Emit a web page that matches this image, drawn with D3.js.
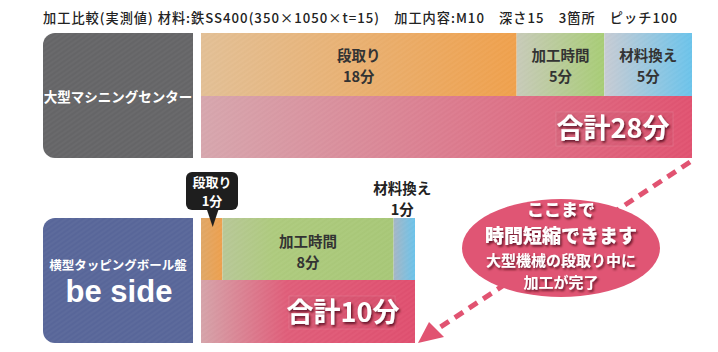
<!DOCTYPE html>
<html>
<head>
<meta charset="utf-8">
<script src="https://cdn.jsdelivr.net/npm/d3@7"></script>
<style>
  body { margin: 0; background: #fff; }
  svg text { font-family: "Noto Sans CJK JP", "Noto Sans", sans-serif; }
  svg text.latin { font-family: "Liberation Sans", Arial, sans-serif; }
</style>
</head>
<body>
<div id="chart"></div>
<script>
// data
var title = "加工比較(実測値) 材料:鉄SS400(350×1050×t=15)　加工内容:M10　深さ15　3箇所　ピッチ100";
var steps = ["段取り", "加工時間", "材料換え"];
var bigMachine = [18, 5, 5];
var beSide = [1, 8, 1];
var machineNames = ["大型マシニングセンター", "横型タッピングボール盤"];
var calloutLines = ["ここまで", "時間短縮できます", "大型機械の段取り中に", "加工が完了"];

var width = 718, height = 352;

var svg = d3.select("#chart").append("svg")
    .attr("width", width)
    .attr("height", height);

var defs = svg.append("defs");

// brushed texture, kept faint
var pat = defs.append("pattern")
    .attr("id", "brush")
    .attr("width", 4).attr("height", 4)
    .attr("patternUnits", "userSpaceOnUse")
    .attr("patternTransform", "rotate(-35)");
pat.append("line").attr("x1", 0).attr("y1", 1).attr("x2", 4).attr("y2", 1)
    .attr("stroke", "#fff").attr("stroke-opacity", 0.06).attr("stroke-width", 0.8);
pat.append("line").attr("x1", 0).attr("y1", 3).attr("x2", 4).attr("y2", 3)
    .attr("stroke", "#000").attr("stroke-opacity", 0.025).attr("stroke-width", 0.8);

function grad(id, stops) {
    var g = defs.append("linearGradient").attr("id", id)
        .attr("x1", "0%").attr("x2", "100%").attr("y1", 0).attr("y2", 0);
    stops.forEach(function(s) {
        g.append("stop").attr("offset", s[0]).attr("stop-color", s[1]);
    });
}
grad("g0", [["0%", "#e3c096"], ["100%", "#f0a14d"]]);
grad("g1", [["0%", "#c8cbb9"], ["100%", "#a8cd76"]]);
grad("g2", [["0%", "#c8ccd4"], ["100%", "#6cc4eb"]]);
grad("gt", [["0%", "#d7a7ae"], ["100%", "#e15371"]]);
grad("b0", [["0%", "#e0a868"], ["100%", "#eea04e"]]);
grad("b1", [["0%", "#b8c898"], ["30%", "#aecb7e"], ["100%", "#a8c878"]]);
grad("b2", [["0%", "#a6b6c6"], ["100%", "#6cc4eb"]]);
grad("bt", [["0%", "#d6a4aa"], ["40%", "#e05e7a"], ["100%", "#e05070"]]);

var shadow = defs.append("filter").attr("id", "shadow")
    .attr("x", "-20%").attr("y", "-30%").attr("width", "140%").attr("height", "160%");
shadow.append("feDropShadow").attr("dx", 1.5).attr("dy", 2).attr("stdDeviation", 1.2)
    .attr("flood-color", "#400010").attr("flood-opacity", 0.75);

// title
svg.append("text")
    .attr("x", 43).attr("y", 23)
    .attr("font-size", 13.2)
    .attr("font-weight", 500)
    .attr("fill", "#222")
    .attr("textLength", 634)
    .attr("lengthAdjust", "spacing")
    .text(title);

function leftBox(y0, y1, fill) {
    var x0 = 43, x1 = 193, r = 12;
    var p = d3.path();
    p.moveTo(x1, y0);
    p.lineTo(x0 + r, y0);
    p.arcTo(x0, y0, x0, y0 + r, r);
    p.lineTo(x0, y1 - r);
    p.arcTo(x0, y1, x0 + r, y1, r);
    p.lineTo(x1, y1);
    p.closePath();
    svg.append("path").attr("d", p.toString()).attr("fill", fill);
    svg.append("path").attr("d", p.toString()).attr("fill", "url(#brush)");
}

function stackRow(values, x, y0, y1, ids) {
    var acc = 0;
    var segs = values.map(function(v, i) {
        var s = { name: steps[i], value: v, start: acc, id: ids[i] };
        acc += v;
        return s;
    });
    var g = svg.append("g");
    g.selectAll("rect.seg").data(segs).enter().append("rect")
        .attr("class", "seg")
        .attr("x", function(d) { return x(d.start); })
        .attr("width", function(d) { return x(d.start + d.value) - x(d.start); })
        .attr("y", y0).attr("height", y1 - y0)
        .attr("fill", function(d) { return "url(#" + d.id + ")"; });
    g.selectAll("rect.tex").data(segs).enter().append("rect")
        .attr("class", "tex")
        .attr("x", function(d) { return x(d.start); })
        .attr("width", function(d) { return x(d.start + d.value) - x(d.start); })
        .attr("y", y0).attr("height", y1 - y0)
        .attr("fill", "url(#brush)");
    return segs;
}

function totalRow(total, x, y0, y1, id) {
    svg.append("rect").attr("x", x(0)).attr("width", x(total) - x(0))
        .attr("y", y0).attr("height", y1 - y0).attr("fill", "url(#" + id + ")");
    svg.append("rect").attr("x", x(0)).attr("width", x(total) - x(0))
        .attr("y", y0).attr("height", y1 - y0).attr("fill", "url(#brush)");
}

// two separate text lines
function twoLine(x, y, a, b, size, gap, fill) {
    [a, b].forEach(function(t, i) {
        svg.append("text").attr("x", x).attr("y", y + i * gap)
            .attr("text-anchor", "middle")
            .attr("font-size", size).attr("font-weight", 700).attr("fill", fill)
            .text(t);
    });
}

// ---- top: large machining center
var topTotal = d3.sum(bigMachine);
var xTop = d3.scaleLinear().domain([0, topTotal]).range([201, 692]);
leftBox(33, 158, "#666668");
svg.append("text").attr("x", 118).attr("y", 102).attr("text-anchor", "middle")
    .attr("font-size", 13.5).attr("font-weight", 700).attr("fill", "#fff")
    .text(machineNames[0]);

var topSegs = stackRow(bigMachine, xTop, 33, 96, ["g0", "g1", "g2"]);
totalRow(topTotal, xTop, 96, 158, "gt");
topSegs.forEach(function(d) {
    twoLine((xTop(d.start) + xTop(d.start + d.value)) / 2, 61, d.name, d.value + "分", 14.5, 21, "#333");
});
svg.append("rect").attr("x", 556).attr("y", 112).attr("width", 117).attr("height", 34)
    .attr("fill", "#000").attr("fill-opacity", 0.03)
    .attr("stroke", "#fff").attr("stroke-opacity", 0.12);
svg.append("text").attr("x", 613).attr("y", 138).attr("text-anchor", "middle")
    .attr("font-size", 27).attr("font-weight", 700).attr("fill", "#fff")
    .attr("filter", "url(#shadow)")
    .text("合計" + topTotal + "分");

// ---- dashed arrow (behind ellipse)
var ax0 = 690, ay0 = 162, ax1 = 436, ay1 = 330;
svg.append("line").attr("x1", ax0).attr("y1", ay0).attr("x2", ax1).attr("y2", ay1)
    .attr("stroke", "#e15371").attr("stroke-width", 5)
    .attr("stroke-dasharray", "10,7");
svg.append("path").attr("d", "M418,343L429,322L444,337Z").attr("fill", "#e15371");

// ---- bottom: be side
var botTotal = d3.sum(beSide);
var xBot = d3.scaleLinear().domain([0, botTotal]).range([201, 415]);
leftBox(218, 343, "#59679a");
svg.append("text").attr("x", 118).attr("y", 270).attr("text-anchor", "middle")
    .attr("font-size", 12.5).attr("font-weight", 700).attr("fill", "#fff")
    .text(machineNames[1]);
svg.append("text").attr("class", "latin")
    .attr("x", 119).attr("y", 302).attr("text-anchor", "middle")
    .attr("font-size", 31).attr("font-weight", 700).attr("fill", "#fff")
    .text("be side");

var botSegs = stackRow(beSide, xBot, 218, 280, ["b0", "b1", "b2"]);
totalRow(botTotal, xBot, 280, 343, "bt");

// labels for bottom segments
var s1 = botSegs[1];
twoLine((xBot(s1.start) + xBot(s1.start + s1.value)) / 2, 247, s1.name, s1.value + "分", 14.5, 21, "#333");
var s2 = botSegs[2];
twoLine((xBot(s2.start) + xBot(s2.start + s2.value)) / 2 - 2, 194, s2.name, s2.value + "分", 14.5, 21, "#222");

// callout for setup time
var s0 = botSegs[0];
var cx = (xBot(s0.start) + xBot(s0.start + s0.value)) / 2 + 1;
svg.append("rect").attr("x", 186).attr("y", 172).attr("width", 52).attr("height", 38)
    .attr("rx", 6).attr("fill", "#1e1e1e");
svg.append("path").attr("d", "M" + (cx - 6) + ",209L" + cx + ",227L" + (cx + 6) + ",209Z")
    .attr("fill", "#1e1e1e");
twoLine(212, 187, s0.name, s0.value + "分", 13, 19, "#fff");

svg.append("rect").attr("x", 289).attr("y", 296).attr("width", 106).attr("height", 33)
    .attr("fill", "#000").attr("fill-opacity", 0.03)
    .attr("stroke", "#fff").attr("stroke-opacity", 0.12);
svg.append("text").attr("x", 343).attr("y", 322).attr("text-anchor", "middle")
    .attr("font-size", 27).attr("font-weight", 700).attr("fill", "#fff")
    .attr("filter", "url(#shadow)")
    .text("合計" + botTotal + "分");

// ---- ellipse callout
svg.append("ellipse").attr("cx", 561).attr("cy", 248).attr("rx", 99).attr("ry", 49)
    .attr("fill", "#e05574");
var ey = [216, 243, 266, 288];
var es = [17, 19, 15, 15];
calloutLines.forEach(function(t, i) {
    svg.append("text").attr("x", 561).attr("y", ey[i]).attr("text-anchor", "middle")
        .attr("font-size", es[i]).attr("font-weight", i < 2 ? 900 : 700)
        .attr("fill", "#fff").attr("filter", "url(#shadow)")
        .text(t);
});
</script>
</body>
</html>
